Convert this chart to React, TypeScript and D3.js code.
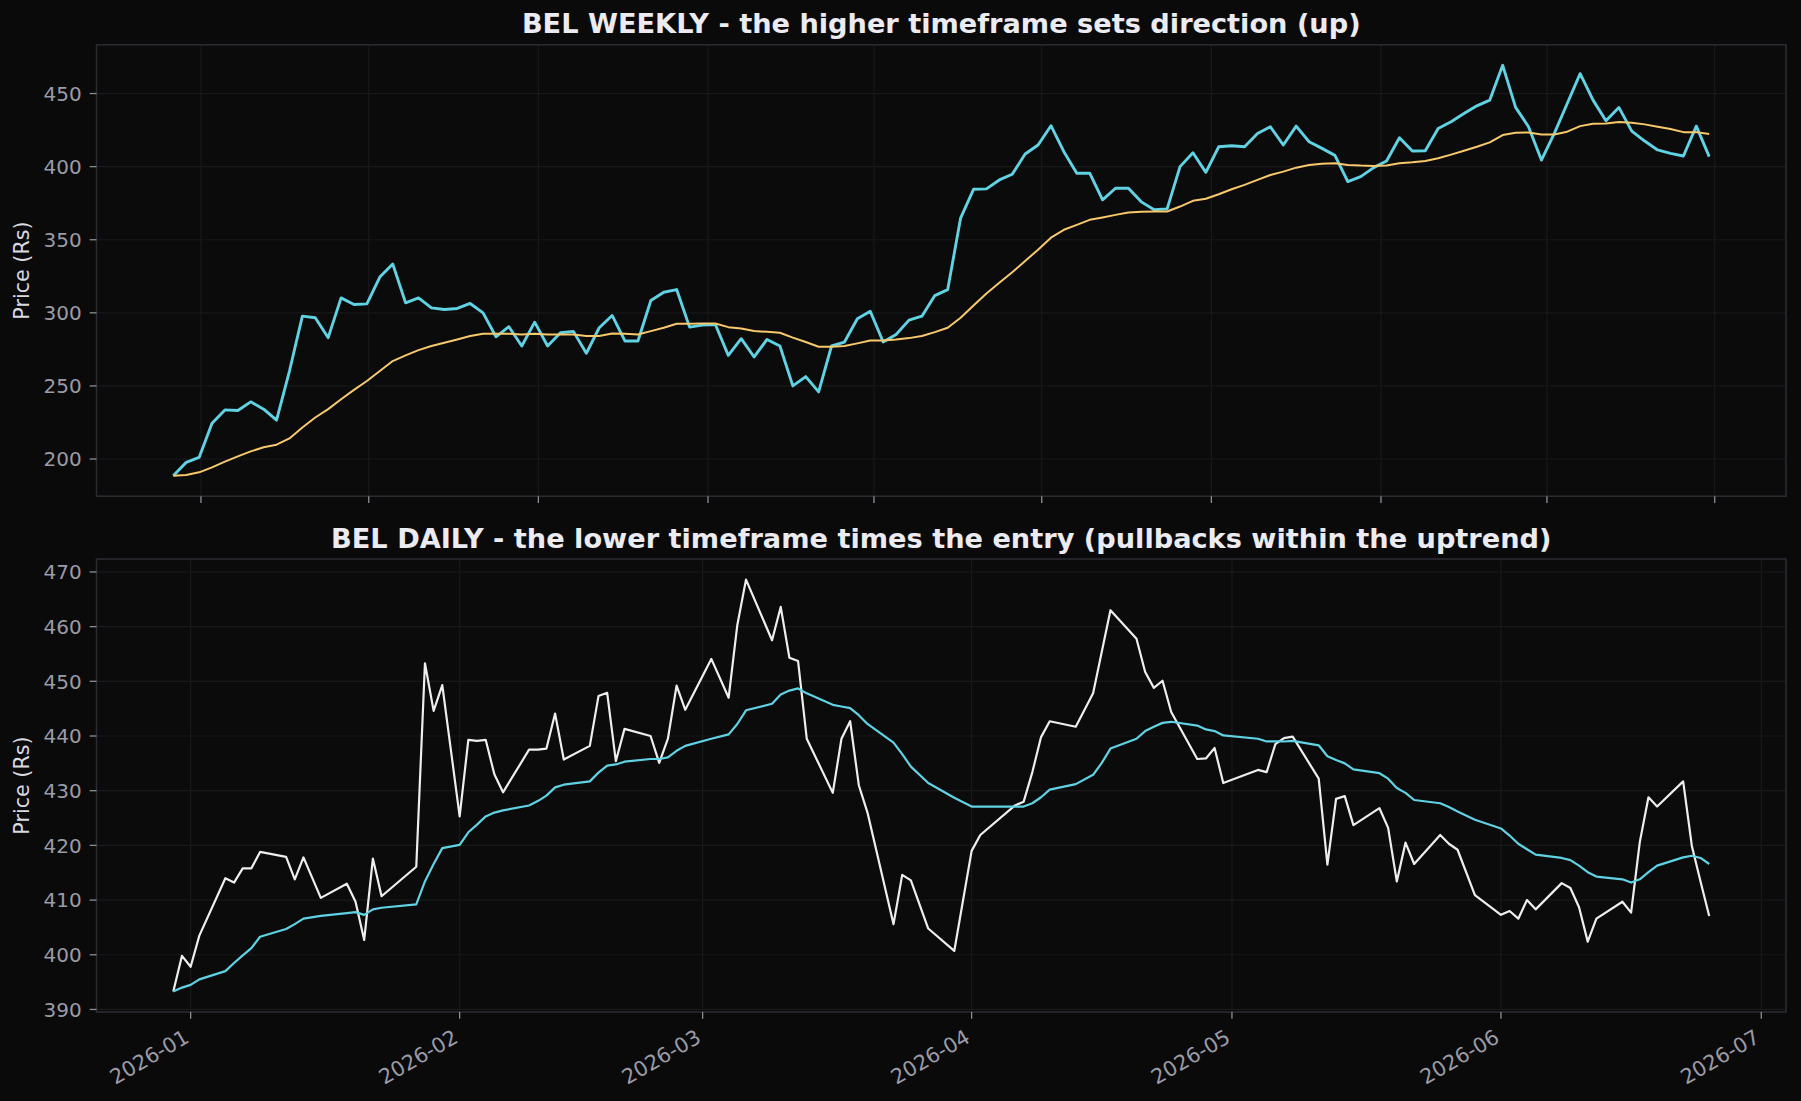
import * as d3 from "d3";

const W = 1801;
const H = 1101;

// weekly closes, one per week ending Sunday, from 2024-03-17
const weeklyStart = "2024-03-17";
const weeklyClose = [
  188.6, 197.7, 201.1, 224.5, 233.6, 233.2, 239.1, 234.1, 226.6, 260.2,
  297.7, 296.6, 283.0, 310.2, 305.7, 306.1, 324.5, 333.4, 306.8, 310.2,
  303.4, 302.3, 303.0, 306.4, 300.0, 283.6, 290.5, 277.3, 293.6, 277.3,
  286.4, 287.3, 272.3, 289.8, 298.2, 280.7, 280.7, 308.4, 314.1, 315.9,
  290.2, 291.6, 292.0, 270.9, 282.3, 269.8, 281.8, 277.3, 250.0, 256.4,
  245.9, 277.3, 280.0, 295.9, 301.1, 280.0, 285.2, 295.0, 297.7, 311.8,
  315.9, 364.8, 384.5, 384.8, 390.9, 394.8, 408.6, 414.8, 428.0, 410.2,
  395.5, 395.5, 377.3, 385.2, 385.2, 375.9, 370.5, 371.1, 400.0, 409.5,
  396.1, 413.6, 414.3, 413.6, 422.7, 427.3, 414.8, 427.7, 417.0, 412.5,
  407.7, 389.8, 393.2, 399.3, 403.9, 419.8, 410.7, 410.9, 426.1, 430.7,
  436.4, 441.6, 445.5, 469.3, 440.5, 427.3, 404.5, 422.7, 443.2, 463.6,
  445.5, 431.4, 440.5, 424.3, 417.5, 411.4, 409.1, 407.3, 427.7, 406.8,
];
const weeklyMA = [
  188.6, 189.1, 190.9, 194.3, 198.2, 201.8, 205.2, 208.0, 209.8, 214.1,
  221.6, 228.4, 234.1, 240.9, 247.3, 253.4, 260.2, 267.0, 270.9, 274.5,
  277.3, 279.5, 281.8, 284.1, 285.7, 285.7, 285.7, 285.2, 285.7, 285.2,
  285.2, 285.2, 284.1, 284.1, 285.9, 285.7, 285.2, 287.5, 289.8, 292.5,
  292.5, 292.7, 292.7, 290.2, 289.3, 287.5, 287.0, 286.4, 283.0, 280.0,
  276.8, 276.8, 277.3, 279.1, 281.1, 281.1, 281.8, 282.7, 284.1, 286.8,
  289.8, 296.6, 305.0, 313.2, 320.5, 327.7, 335.5, 343.2, 351.4, 356.8,
  360.2, 363.6, 365.2, 367.0, 368.6, 369.1, 369.3, 369.3, 372.7, 376.6,
  378.0, 381.1, 384.5, 387.5, 390.9, 394.3, 396.6, 399.3, 401.1, 402.0,
  402.3, 401.1, 400.7, 400.5, 400.7, 402.3, 403.0, 403.9, 405.7, 408.2,
  410.9, 413.6, 416.6, 421.6, 423.2, 423.4, 422.0, 422.0, 423.9, 427.7,
  429.3, 429.5, 430.5, 430.0, 428.9, 427.3, 425.7, 423.6, 423.6, 422.3,
];

// daily sessions: weekdays in range, minus exchange holidays, plus special sessions
const dailyStart = "2025-12-30";
const dailyEnd = "2026-06-25";
const holidays = [
  "2026-01-15", "2026-01-26", "2026-03-03", "2026-03-26", "2026-03-31",
  "2026-04-03", "2026-04-14", "2026-05-01", "2026-05-28",
];
const specialSessions = ["2026-02-01"];

const dailyClose = [
  393.3, 399.8, 397.8, 403.5,
  414.0, 413.2, 415.8, 415.8, 418.8,
  417.9, 413.8, 417.8, 410.4,
  413.0, 409.7, 402.7, 417.6, 410.7,
  416.1, 453.3, 444.6, 449.3, 425.3,
  439.3, 439.1, 439.3, 433.0, 429.7,
  437.5, 437.5, 437.7, 444.1, 435.7,
  438.2, 447.3, 447.9, 435.4, 441.3,
  440.0, 435.1, 439.5, 449.2, 444.8,
  454.1, 447.0, 460.3, 468.6,
  457.5, 463.6, 454.3, 453.7, 439.5,
  429.6, 439.5, 442.7, 431.0, 426.0,
  405.6, 414.6, 413.6, 404.8, 400.7,
  419.0, 421.9,
  427.3, 428.0, 433.4, 439.8, 442.7,
  441.7, 447.8, 455.4, 463.0,
  457.8, 451.7, 448.8, 450.1, 444.4,
  435.8, 435.9, 437.8, 431.4,
  433.8, 433.4, 438.5, 439.6, 439.9,
  432.2, 416.5, 428.5, 429.0, 423.7,
  426.8, 423.2, 413.4, 420.5, 416.6,
  421.9, 420.3, 419.2, 410.9,
  407.3, 408.0, 406.6, 410.0, 408.3,
  413.1, 412.2, 408.7, 402.4, 406.6,
  409.7, 407.7, 420.6, 428.8, 427.1,
  431.7, 419.9, 413.4, 407.1,
];
const dailyEMA = [
  393.3, 394.0, 394.5, 395.5,
  397.0, 398.5, 399.9, 401.2, 403.3,
  404.7, 405.6, 406.6, 407.1,
  407.6, 407.8, 407.3, 408.3, 408.6,
  409.2, 413.4, 416.6, 419.5, 420.1,
  422.4, 423.8, 425.3, 426.0, 426.4,
  427.3, 428.1, 429.1, 430.6, 431.1,
  431.7, 433.3, 434.6, 434.8, 435.3,
  435.8, 435.8, 436.1, 437.3, 438.2,
  439.5, 440.3, 442.2, 444.7,
  445.9, 447.6, 448.3, 448.7, 447.8,
  445.7, 445.4, 445.1, 443.8, 442.2,
  438.8, 436.7, 434.4, 431.4, 428.7,
  427.1, 427.1,
  427.1, 427.1, 427.7, 428.8, 430.2,
  431.2, 432.9, 435.1, 437.7,
  439.5, 440.9, 441.7, 442.4, 442.6,
  441.9, 441.2, 440.9, 440.1,
  439.5, 439.0, 439.0, 439.0, 439.1,
  438.3, 436.3, 435.6, 435.0, 433.9,
  433.2, 432.2, 430.5, 429.6, 428.3,
  427.7, 427.0, 426.2, 424.7,
  423.1, 421.8, 420.3, 419.3, 418.3,
  417.7, 417.3, 416.3, 415.1, 414.3,
  413.8, 413.2, 413.8, 415.1, 416.3,
  417.8, 418.1, 417.7, 416.6,
];

const topTitle = "BEL WEEKLY - the higher timeframe sets direction (up)";
const bottomTitle = "BEL DAILY - the lower timeframe times the entry (pullbacks within the uptrend)";
const topYTicks = [200, 250, 300, 350, 400, 450];
const bottomYTicks = [390, 400, 410, 420, 430, 440, 450, 460, 470];

const FONT = "'DejaVu Sans', sans-serif";
const BG = "#0a0a0a";
const FACE = "#0b0b0b";
const SPINE = "#2a2a31";
const GRID = "#19191c";
const TICK = "#8d8d96";
const TICKLABEL = "#9b9ba6";
const CYAN = "#5fd2e4";
const GOLD = "#f7c96b";
const WHITE = "#eeeeee";

const parse = (s: string) => new Date(s + "T00:00:00Z");
const DAY = 86400000;

const weeklyDates = weeklyClose.map((_, i) => new Date(parse(weeklyStart).getTime() + i * 7 * DAY));

const dailyDates: Date[] = (() => {
  const out: Date[] = [];
  const skip = new Set(holidays);
  const extra = new Set(specialSessions);
  for (let t = parse(dailyStart).getTime(); t <= parse(dailyEnd).getTime(); t += DAY) {
    const d = new Date(t);
    const key = d.toISOString().slice(0, 10);
    const wd = d.getUTCDay();
    if ((wd !== 0 && wd !== 6 && !skip.has(key)) || extra.has(key)) out.push(d);
  }
  return out;
})();

const padExtent = (vals: number[]) => {
  const [lo, hi] = d3.extent(vals) as [number, number];
  const p = (hi - lo) * 0.05;
  return [lo - p, hi + p];
};
const padTime = (dates: Date[]) => {
  const lo = dates[0].getTime();
  const hi = dates[dates.length - 1].getTime();
  const p = (hi - lo) * 0.05;
  return [new Date(lo - p), new Date(hi + p)];
};

const LEFT = 96.5;
const RIGHT = 1786;

function Panel({ top, bottom, title, dates, series, yTicks, xTicks, showXLabels }: any) {
  const x = d3.scaleUtc().domain(padTime(dates)).range([LEFT, RIGHT]);
  const allVals = series.flatMap((s: any) => s.values);
  const y = d3.scaleLinear().domain(padExtent(allVals)).range([bottom, top]);
  const tickLen = 6.8;
  const fs = 20;
  const fmt = d3.utcFormat("%Y-%m");
  const midY = (top + bottom) / 2;
  return (
    <g>
      <rect x={LEFT} y={top} width={RIGHT - LEFT} height={bottom - top} fill={FACE} />
      {yTicks.map((t: number) => (
        <line key={"gy" + t} x1={LEFT} x2={RIGHT} y1={y(t)} y2={y(t)} stroke={GRID} strokeWidth={1.2} />
      ))}
      {xTicks.map((t: Date) => (
        <line key={"gx" + t.getTime()} x1={x(t)} x2={x(t)} y1={top} y2={bottom} stroke={GRID} strokeWidth={1.2} />
      ))}
      <defs>
        <clipPath id={"clip" + top}>
          <rect x={LEFT} y={top} width={RIGHT - LEFT} height={bottom - top} />
        </clipPath>
      </defs>
      <g clipPath={`url(#clip${top})`}>
        {series.map((s: any, i: number) => {
          const line = d3
            .line<number>()
            .x((_, j) => x(dates[j]))
            .y((v) => y(v));
          return (
            <path key={i} d={line(s.values) || ""} fill="none" stroke={s.color} strokeWidth={s.width}
              strokeLinejoin="round" strokeLinecap="butt" />
          );
        })}
      </g>
      <rect x={LEFT} y={top} width={RIGHT - LEFT} height={bottom - top} fill="none" stroke={SPINE} strokeWidth={1.6} />
      {yTicks.map((t: number) => (
        <g key={"ty" + t}>
          <line x1={LEFT - tickLen} x2={LEFT} y1={y(t)} y2={y(t)} stroke={TICK} strokeWidth={1.3} />
          <text x={LEFT - tickLen - 8} y={y(t)} dy="0.36em" textAnchor="end" fontSize={fs}
            fontFamily={FONT} fill={TICKLABEL}>{t}</text>
        </g>
      ))}
      {xTicks.map((t: Date) => {
        const px = x(t);
        const y0 = bottom + tickLen + 9;
        return (
          <g key={"tx" + t.getTime()}>
            <line x1={px} x2={px} y1={bottom} y2={bottom + tickLen} stroke={TICK} strokeWidth={1.3} />
            {showXLabels && (
              <text x={px - 8} y={y0} dy="0.76em" textAnchor="end" fontSize={20.8} fontFamily={FONT}
                fill={TICKLABEL} transform={`rotate(-30, ${px - 8}, ${y0})`}>{fmt(t)}</text>
            )}
          </g>
        );
      })}
      <text x={22} y={midY} dy="0.35em" textAnchor="middle" fontSize={20.7} fontFamily={FONT}
        fill="#d9d9e0" transform={`rotate(-90, 22, ${midY})`}>Price (Rs)</text>
      <text x={(LEFT + RIGHT) / 2} y={top - 11.5} textAnchor="middle" fontSize={27.2} fontWeight="bold"
        fontFamily={FONT} fill="#ebebf1">{title}</text>
    </g>
  );
}

export default function App() {
  const topDom = padTime(weeklyDates);
  const topXTicks = d3.utcMonth.every(3)!.range(topDom[0], new Date(topDom[1].getTime() + 1));
  const botDom = padTime(dailyDates);
  const botXTicks = d3.utcMonth.every(1)!.range(botDom[0], new Date(botDom[1].getTime() + 1));
  return (
    <svg width={W} height={H} viewBox={`0 0 ${W} ${H}`}
      style={{ position: "absolute", left: 0, top: 0, background: BG }}>
      <rect width={W} height={H} fill={BG} />
      <Panel top={44.8} bottom={496.2} title={topTitle} dates={weeklyDates}
        series={[
          { values: weeklyClose, color: CYAN, width: 2.9 },
          { values: weeklyMA, color: GOLD, width: 2.0 },
        ]}
        yTicks={topYTicks} xTicks={topXTicks} showXLabels={false} />
      <Panel top={559} bottom={1012} title={bottomTitle} dates={dailyDates}
        series={[
          { values: dailyClose, color: WHITE, width: 2.2 },
          { values: dailyEMA, color: CYAN, width: 2.2 },
        ]}
        yTicks={bottomYTicks} xTicks={botXTicks} showXLabels={true} />
    </svg>
  );
}
